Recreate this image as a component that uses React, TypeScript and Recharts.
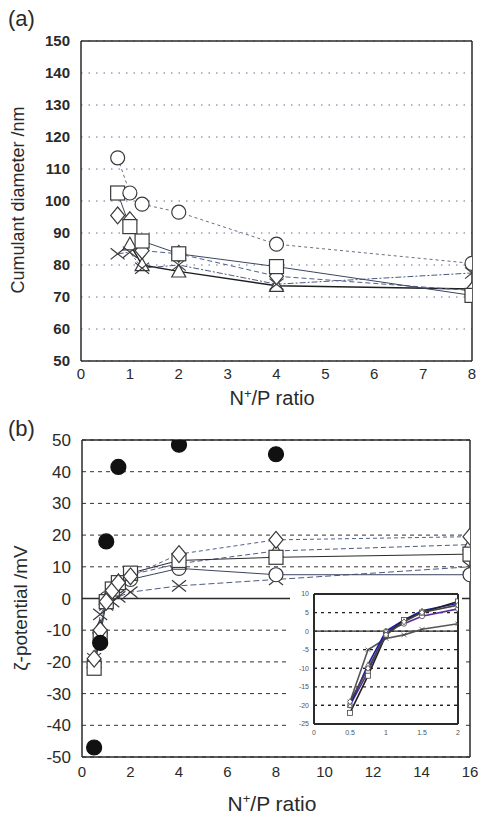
import { CartesianGrid, Line, LineChart, ReferenceLine, XAxis, YAxis } from "recharts";

type Pt = { x: number; y: number };
const pts = (xs: number[], ys: (number | null)[]): Pt[] =>
  xs.map((x, i) => ({ x, y: ys[i] as number })).filter((p) => p.y != null);

// (a) cumulant diameter vs N+/P
const ratioA = [0.75, 1, 1.25, 2, 4, 8];
const diaCircle = [113.5, 102.5, 99, 96.5, 86.5, 80.5];
const diaSquare = [102.5, 92, 87.5, 83.5, 79.5, 70.5];
const diaDiamond = [95.5, 94, 84.5, 83.5, 76.5, 72];
const diaTriangle = [null, 86.5, 80, 78, 73.5, 72.5];
const diaCross = [83.5, 84, 79, 80, 74, 77.5];
const ticksA_x = [0, 1, 2, 3, 4, 5, 6, 7, 8];
const ticksA_y = [50, 60, 70, 80, 90, 100, 110, 120, 130, 140, 150];

// (b) zeta potential vs N+/P
const ratioB = [0.5, 0.75, 1, 1.25, 1.5, 2, 4, 8, 16];
const zetaCircle = [-20, -11, 0, 2, 4, 6, 9.5, 7.5, 7.5];
const zetaSquare = [-22, -12, -1, 3, 5, 8, 12, 13, 14];
const zetaDiamond = [-19, -10, -1, 2.5, 5, 7, 14, 18.5, 19.5];
const zetaTriangle = [-20, -9, 0, 3, 5.5, 7.5, 11, 15, 17];
const zetaCross = [-19, -5, -2, -1, 0.5, 2, 4, 6, 10];
const ratioFilled = [0.5, 0.75, 1, 1.5, 4, 8];
const zetaFilled = [-47, -14, 18, 41.5, 48.5, 45.5];
const ticksB_x = [0, 2, 4, 6, 8, 10, 12, 14, 16];
const ticksB_y = [-50, -40, -30, -20, -10, 0, 10, 20, 30, 40, 50];
const ticksIn_x = [0, 0.5, 1, 1.5, 2];
const ticksIn_y = [-25, -20, -15, -10, -5, 0, 5, 10];

const font = '"Liberation Sans", Arial, sans-serif';
const ink = "#2a2a2a";

function marker(shape: string, s: number, fill = "#fff", stroke = "#3a3a3a", sw = 1.2) {
  return (p: any) => {
    const { cx, cy, index } = p;
    if (cx == null || cy == null) return <g key={index} />;
    const k = `${shape}-${index}`;
    if (shape === "circle") return <circle key={k} cx={cx} cy={cy} r={s} fill={fill} stroke={stroke} strokeWidth={sw} />;
    if (shape === "square") return <rect key={k} x={cx - s} y={cy - s} width={2 * s} height={2 * s} fill={fill} stroke={stroke} strokeWidth={sw} />;
    if (shape === "diamond")
      return <polygon key={k} points={`${cx},${cy - s * 1.2} ${cx + s},${cy} ${cx},${cy + s * 1.2} ${cx - s},${cy}`} fill={fill} stroke={stroke} strokeWidth={sw} />;
    if (shape === "triangle")
      return <polygon key={k} points={`${cx},${cy - s} ${cx + s},${cy + s * 0.8} ${cx - s},${cy + s * 0.8}`} fill={fill} stroke={stroke} strokeWidth={sw} />;
    return (
      <g key={k} stroke={stroke} strokeWidth={sw}>
        <line x1={cx - s} y1={cy - s * 0.8} x2={cx + s} y2={cy + s * 0.8} />
        <line x1={cx - s} y1={cy + s * 0.8} x2={cx + s} y2={cy - s * 0.8} />
      </g>
    );
  };
}

const seriesA = [
  { id: "tri", ys: diaTriangle, shape: "triangle", stroke: "#1e1e1e", w: 1.4, dash: undefined },
  { id: "cross", ys: diaCross, shape: "cross", stroke: "#4c5b85", w: 1, dash: "6 2 2 2" },
  { id: "diamond", ys: diaDiamond, shape: "diamond", stroke: "#50608a", w: 1, dash: "5 3" },
  { id: "square", ys: diaSquare, shape: "square", stroke: "#3d4660", w: 1, dash: undefined },
  { id: "circle", ys: diaCircle, shape: "circle", stroke: "#6a6f80", w: 1, dash: "3 3" },
];

const seriesB = [
  { id: "cross", ys: zetaCross, shape: "cross", stroke: "#4c5b85", w: 1, dash: "6 3", inset: "#555" },
  { id: "circle", ys: zetaCircle, shape: "circle", stroke: "#3d4660", w: 1, dash: undefined, inset: "#5b2d95" },
  { id: "tri", ys: zetaTriangle, shape: "triangle", stroke: "#4c5b85", w: 1, dash: "5 3", inset: "#1b1bb0" },
  { id: "square", ys: zetaSquare, shape: "square", stroke: "#2a2a2a", w: 1, dash: undefined, inset: "#222" },
  { id: "diamond", ys: zetaDiamond, shape: "diamond", stroke: "#50608a", w: 1, dash: "4 3", inset: "#444" },
];

const abs = (l: number, t: number): React.CSSProperties => ({ position: "absolute", left: l, top: t });

export default function App() {
  return (
    <div style={{ position: "absolute", left: 0, top: 0, width: 481, height: 819, background: "#fff", fontFamily: font, color: ink, overflow: "hidden" }}>
      {/* panel (a) */}
      <div style={abs(0, 0)}>
        <LineChart width={481} height={400} margin={{ top: 41, right: 9, left: 0, bottom: 14 }}>
          <CartesianGrid vertical={false} stroke="#5a6f9a" strokeDasharray="1.5 6" />
          <XAxis type="number" dataKey="x" domain={[0, 8]} ticks={ticksA_x} allowDataOverflow stroke={ink} strokeWidth={1.5} tickLine={false} tickSize={4} tickMargin={3} height={25} tick={{ fill: ink, fontSize: 15 }} />
          <YAxis type="number" dataKey="y" domain={[50, 150]} ticks={ticksA_y} allowDataOverflow stroke={ink} strokeWidth={1.5} tickLine={false} tickSize={8} tickMargin={3} width={81} tick={{ fill: ink, fontSize: 15, fontWeight: 700 }} />
          <ReferenceLine y={150} stroke={ink} strokeWidth={1.5} />
          <ReferenceLine x={8} stroke={ink} strokeWidth={1.5} />
          {seriesA.map((s) => (
            <Line key={s.id} data={pts(ratioA, s.ys)} dataKey="y" stroke={s.stroke} strokeWidth={s.w} strokeDasharray={s.dash} dot={marker(s.shape, 7)} activeDot={false} isAnimationActive={false} />
          ))}
        </LineChart>
      </div>
      <div style={{ ...abs(8, 6), fontSize: 22 }}>(a)</div>
      <div style={{ position: "absolute", left: 18, top: 200, transform: "translate(-50%, -50%) rotate(-90deg)", whiteSpace: "nowrap", fontSize: 18 }}>Cumulant diameter /nm</div>
      <div style={{ position: "absolute", left: 272, top: 398, transform: "translate(-50%, -50%)", whiteSpace: "nowrap", fontSize: 20 }}>
        N<sup style={{ fontSize: 13 }}>+</sup>/P ratio
      </div>

      {/* panel (b) */}
      <div style={abs(0, 420)}>
        <LineChart width={481} height={399} margin={{ top: 20, right: 11, left: 0, bottom: 37 }}>
          <CartesianGrid vertical={false} stroke="#333" strokeDasharray="4 4" />
          <XAxis type="number" dataKey="x" domain={[0, 16]} ticks={ticksB_x} allowDataOverflow stroke={ink} strokeWidth={1.5} tickLine={false} tickSize={5} tickMargin={4} height={25} tick={{ fill: ink, fontSize: 15 }} />
          <YAxis type="number" dataKey="y" domain={[-50, 50]} ticks={ticksB_y} allowDataOverflow stroke={ink} strokeWidth={1.5} tickLine={false} tickSize={8} tickMargin={3} width={82} tick={{ fill: ink, fontSize: 17 }} />
          <ReferenceLine y={0} stroke={ink} strokeWidth={1.3} />
          <ReferenceLine y={50} stroke={ink} strokeWidth={1.5} />
          <ReferenceLine x={16} stroke={ink} strokeWidth={1.5} />
          {seriesB.map((s) => (
            <Line key={s.id} data={pts(ratioB, s.ys)} dataKey="y" stroke={s.stroke} strokeWidth={s.w} strokeDasharray={s.dash} dot={marker(s.shape, 7)} activeDot={false} isAnimationActive={false} />
          ))}
          <Line data={pts(ratioFilled, zetaFilled)} dataKey="y" stroke="none" dot={marker("circle", 7.5, "#111", "#111")} activeDot={false} isAnimationActive={false} />
        </LineChart>
      </div>
      <div style={{ ...abs(8, 416), fontSize: 22 }}>(b)</div>
      <div style={{ position: "absolute", left: 21, top: 608, transform: "translate(-50%, -50%) rotate(-90deg)", whiteSpace: "nowrap", fontSize: 19 }}>ζ-potential /mV</div>
      <div style={{ position: "absolute", left: 272, top: 803, transform: "translate(-50%, -50%)", whiteSpace: "nowrap", fontSize: 21 }}>
        N<sup style={{ fontSize: 13 }}>+</sup>/P ratio
      </div>

      {/* inset */}
      <div style={{ ...abs(290, 586), background: "#fff", width: 172, height: 160 }}>
        <LineChart width={190} height={160} margin={{ top: 8, right: 22, left: 0, bottom: 8 }}>
          <CartesianGrid vertical={false} horizontal={true} stroke="#222" strokeWidth={1.3} strokeDasharray="3 4" />
          <XAxis type="number" dataKey="x" domain={[0, 2]} ticks={ticksIn_x} allowDataOverflow stroke={ink} strokeWidth={2} tickLine={false} tickSize={3} tickMargin={3} height={14} tick={{ fill: "#555", fontSize: 7 }} />
          <YAxis type="number" dataKey="y" domain={[-25, 10]} ticks={ticksIn_y} allowDataOverflow stroke={ink} strokeWidth={2} tickLine={false} tickSize={3} tickMargin={2} width={24} tick={{ fill: "#555", fontSize: 7 }} />
          {ticksIn_y.filter((t) => t !== 0 && t !== 10 && t !== -25).map((t) => (
            <ReferenceLine key={t} y={t} stroke="#222" strokeWidth={1.2} strokeDasharray="3 4" />
          ))}
          <ReferenceLine y={0} stroke={ink} strokeWidth={1.3} />
          <ReferenceLine y={10} stroke={ink} strokeWidth={2} />
          <ReferenceLine x={2} stroke={ink} strokeWidth={2} />
          {seriesB.map((s) => (
            <Line key={s.id} data={pts(ratioB, s.ys).filter((p) => p.x <= 2)} dataKey="y" stroke={s.inset} strokeWidth={1.6} dot={marker(s.shape, 2.5, "#fff", "#444", 0.8)} activeDot={false} isAnimationActive={false} />
          ))}
        </LineChart>
      </div>
    </div>
  );
}
